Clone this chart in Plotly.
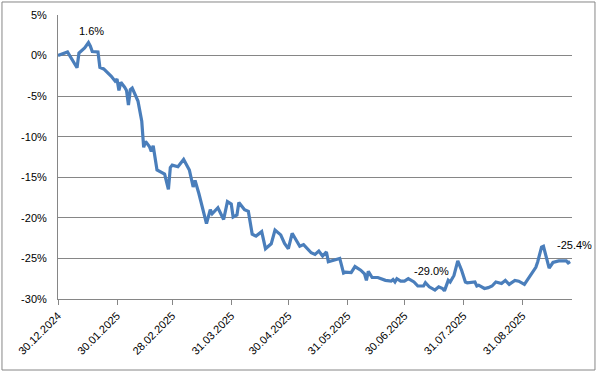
import plotly.graph_objects as go

dates = [
    "2024-12-30", "2025-01-04", "2025-01-09", "2025-01-10", "2025-01-13", "2025-01-15",
    "2025-01-16", "2025-01-17", "2025-01-20", "2025-01-21", "2025-01-23", "2025-01-25",
    "2025-01-27", "2025-01-29", "2025-01-30", "2025-01-31", "2025-02-01", "2025-02-03",
    "2025-02-04", "2025-02-05", "2025-02-06", "2025-02-07", "2025-02-10", "2025-02-12",
    "2025-02-13", "2025-02-14", "2025-02-16", "2025-02-17", "2025-02-18", "2025-02-20",
    "2025-02-24", "2025-02-26", "2025-02-27", "2025-02-28", "2025-03-03", "2025-03-06",
    "2025-03-09", "2025-03-11", "2025-03-12", "2025-03-14", "2025-03-16", "2025-03-18",
    "2025-03-20", "2025-03-21", "2025-03-24", "2025-03-26", "2025-03-27", "2025-03-29",
    "2025-03-31", "2025-04-01", "2025-04-03", "2025-04-04", "2025-04-07", "2025-04-09",
    "2025-04-11", "2025-04-13", "2025-04-16", "2025-04-18", "2025-04-21", "2025-04-23",
    "2025-04-26", "2025-04-28", "2025-04-30", "2025-05-02", "2025-05-05", "2025-05-06",
    "2025-05-08", "2025-05-12", "2025-05-14", "2025-05-16", "2025-05-18", "2025-05-20",
    "2025-05-21", "2025-05-23", "2025-05-27", "2025-05-29", "2025-05-30", "2025-06-02",
    "2025-06-04", "2025-06-07", "2025-06-09", "2025-06-10", "2025-06-11", "2025-06-13",
    "2025-06-16", "2025-06-20", "2025-06-23", "2025-06-24", "2025-06-25", "2025-06-26",
    "2025-06-28", "2025-06-30", "2025-07-02", "2025-07-05", "2025-07-07", "2025-07-10",
    "2025-07-11", "2025-07-13", "2025-07-16", "2025-07-18", "2025-07-20", "2025-07-21",
    "2025-07-23", "2025-07-24", "2025-07-26", "2025-07-28", "2025-07-30", "2025-08-01",
    "2025-08-02", "2025-08-06", "2025-08-07", "2025-08-08", "2025-08-11", "2025-08-13",
    "2025-08-15", "2025-08-17", "2025-08-20", "2025-08-22", "2025-08-24", "2025-08-27",
    "2025-08-29", "2025-09-01", "2025-09-03", "2025-09-07", "2025-09-08", "2025-09-10",
    "2025-09-11", "2025-09-13", "2025-09-14", "2025-09-16", "2025-09-19", "2025-09-23",
    "2025-09-24", "2025-09-25",
]
values = [
    0.0, 0.45, -1.5, 0.3, 0.95, 1.6,
    1.15, 0.5, 0.45, -1.45, -1.65, -2.1,
    -2.55, -3.15, -2.9, -4.3, -3.3, -3.9,
    -4.3, -6.1, -4.2, -4.0, -5.6, -8.1,
    -11.3, -10.6, -11.2, -11.8, -11.1, -14.1,
    -14.6, -16.5, -13.8, -13.5, -13.7, -12.8,
    -14.1, -16.2, -15.4, -17.0, -19.0, -20.7,
    -19.0, -19.5, -18.75, -19.8, -20.2, -18.0,
    -18.3, -19.9, -19.65, -18.1, -19.0, -19.2,
    -22.0, -22.25, -21.7, -23.8, -23.2, -21.5,
    -22.1, -23.15, -23.8, -21.9, -23.2, -23.5,
    -23.3, -24.3, -24.5, -24.1, -24.7, -24.2,
    -25.4, -25.3, -25.0, -26.8, -26.7, -26.75,
    -26.0, -26.45, -26.9, -27.7, -26.6, -27.35,
    -27.35, -27.7, -27.8, -27.6, -27.9, -27.5,
    -27.8, -27.8, -27.5, -27.9, -28.4, -28.4,
    -28.0, -28.5, -28.9, -28.5, -28.7, -29.0,
    -27.7, -27.9, -27.1, -25.3, -26.45, -27.9,
    -28.0, -27.9, -28.4, -28.3, -28.7, -28.6,
    -28.4, -27.9, -28.1, -27.7, -28.2, -27.7,
    -27.8, -28.2, -27.5, -26.1, -25.4, -23.6,
    -23.5, -25.2, -26.2, -25.5, -25.3, -25.3,
    -25.55, -25.4,
]

tick_dates = ["2024-12-30", "2025-01-30", "2025-02-28", "2025-03-31", "2025-04-30",
              "2025-05-31", "2025-06-30", "2025-07-31", "2025-08-31"]
tick_labels = ["30.12.2024", "30.01.2025", "28.02.2025", "31.03.2025", "30.04.2025",
               "31.05.2025", "30.06.2025", "31.07.2025", "31.08.2025"]
y_ticks = [5, 0, -5, -10, -15, -20, -25, -30]
y_labels = ["5%", "0%", "-5%", "-10%", "-15%", "-20%", "-25%", "-30%"]

# labelled points: (date, value, text, x offset px, y offset px)
labels = [
    ("2025-01-15", 1.6, "1.6%", 3, -12),
    ("2025-07-21", -29.0, "-29.0%", -13, -20),
    ("2025-09-25", -25.4, "-25.4%", 4, -17),
]

grid = "#868686"
fnt = dict(family="Liberation Sans, Arial, sans-serif", size=11, color="#000000")

fig = go.Figure()
fig.add_trace(go.Scatter(
    x=dates, y=values, mode="lines",
    line=dict(color="#4A7EBB", width=3.2),
    hoverinfo="skip", showlegend=False,
))

for d, v, t, ox, oy in labels:
    fig.add_annotation(x=d, y=v, text=t, showarrow=True, arrowcolor="rgba(0,0,0,0)",
                       ax=ox, ay=oy, xref="x", yref="y",
                       font=dict(family=fnt["family"], size=11, color="#000000"))

fig.add_shape(type="rect", xref="paper", yref="paper",
              x0=-0.109, x1=1.0447, y0=-0.25, y1=1.0458,
              line=dict(color="#868686", width=1), layer="below")

fig.update_layout(
    width=599, height=373,
    margin=dict(l=58, r=27, t=15, b=74, autoexpand=False),
    paper_bgcolor="white", plot_bgcolor="white",
    font=fnt,
    xaxis=dict(
        type="date", range=["2024-12-30", "2025-09-26"],
        tickmode="array", tickvals=tick_dates, ticktext=tick_labels,
        tickangle=-45, ticks="outside", ticklen=5, tickcolor=grid,
        showgrid=False, showline=True, linecolor=grid, linewidth=1,
        zeroline=False, tickfont=fnt, automargin=False,
    ),
    yaxis=dict(
        range=[-30, 5], tickmode="array", tickvals=y_ticks, ticktext=y_labels,
        showgrid=True, gridcolor=grid, gridwidth=1,
        showline=True, linecolor=grid, linewidth=1, zeroline=False,
        ticks="", ticklabelstandoff=8, tickfont=fnt, automargin=False,
    ),
)

fig.write_html("out.html", config={"displayModeBar": False},
               post_script="document.body.style.margin='0';")
